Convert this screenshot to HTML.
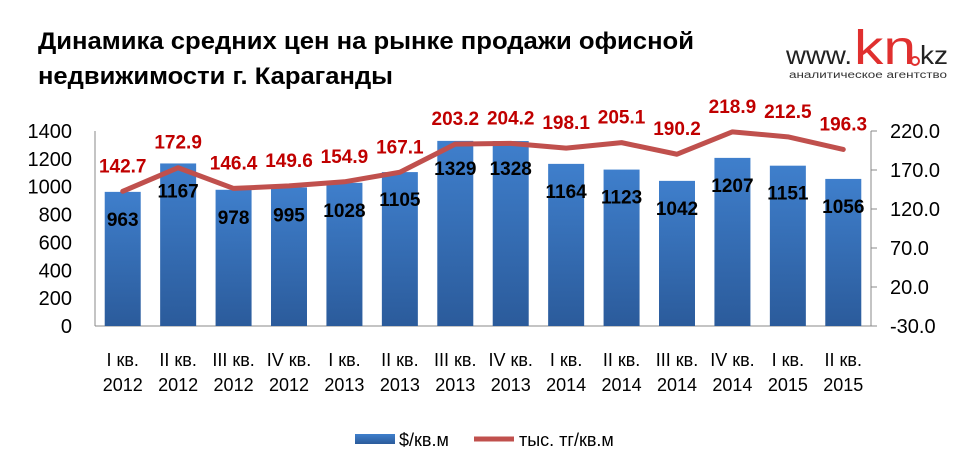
<!DOCTYPE html>
<html><head><meta charset="utf-8"><style>
html,body{margin:0;padding:0;background:#fff;width:971px;height:474px;overflow:hidden;font-family:"Liberation Sans","DejaVu Sans",sans-serif}
</style></head><body>
<svg id="s" width="971" height="474" xmlns="http://www.w3.org/2000/svg" font-family="Liberation Sans, DejaVu Sans, sans-serif">
<defs>
<linearGradient id="g" x1="0" y1="0" x2="0" y2="1"><stop offset="0" stop-color="#3f7fcc"/><stop offset="1" stop-color="#2b5b9b"/></linearGradient>
</defs>
<text x="38" y="49" font-size="24" font-weight="bold" fill="#000" textLength="656" lengthAdjust="spacingAndGlyphs">Динамика средних цен на рынке продажи офисной</text>
<text x="38" y="84" font-size="24" font-weight="bold" fill="#000" textLength="355" lengthAdjust="spacingAndGlyphs">недвижимости г. Караганды</text>
<text x="786" y="64" font-size="26" fill="#222" textLength="66" lengthAdjust="spacingAndGlyphs">www.</text>
<text x="854" y="64" font-size="48" fill="#e0302f" textLength="62" lengthAdjust="spacingAndGlyphs">kn</text>
<circle cx="915" cy="61" r="4" fill="none" stroke="#e0302f" stroke-width="2"/>
<text x="920" y="64" font-size="26" fill="#222" textLength="28" lengthAdjust="spacingAndGlyphs">kz</text>
<text x="789" y="78" font-size="10" fill="#333" textLength="158" lengthAdjust="spacingAndGlyphs">аналитическое агентство</text>
<g id="c"></g>
<rect x="355" y="434" width="40" height="10" fill="url(#g)"/>
<text x="399" y="446" font-size="18" fill="#000">$/кв.м</text>
<line x1="474" y1="439" x2="514" y2="439" stroke="#c0504d" stroke-width="5"/>
<text x="519" y="446" font-size="18" fill="#000">тыс. тг/кв.м</text>
</svg>
<script>
var c=document.getElementById('c'),h='';
var L=95,R=871,B=326,T=131,n=14,w=(R-L)/n;
var bars=[963,1167,978,995,1028,1105,1329,1328,1164,1123,1042,1207,1151,1056];
var ln=[142.7,172.9,146.4,149.6,154.9,167.1,203.2,204.2,198.1,205.1,190.2,218.9,212.5,196.3];
var q=['I','II','III','IV','I','II','III','IV','I','II','III','IV','I','II'];
var yr=[2012,2012,2012,2012,2013,2013,2013,2013,2014,2014,2014,2014,2015,2015];
function yb(v){return B-v*(B-T)/1400}
function yl(v){return B-(v+30)*(B-T)/250}
h+='<line x1="'+L+'" y1="'+T+'" x2="'+L+'" y2="'+B+'" stroke="#888"/>';
h+='<line x1="'+R+'" y1="'+T+'" x2="'+R+'" y2="'+B+'" stroke="#888"/>';
h+='<line x1="'+L+'" y1="'+B+'" x2="'+R+'" y2="'+B+'" stroke="#888"/>';
for(var i=0;i<=7;i++){var y=yb(i*200);h+='<text x="72" y="'+(y+7)+'" font-size="20" text-anchor="end">'+(i*200)+'</text>';}
for(var i=0;i<=5;i++){var v=-30+i*50,y=yl(v);h+='<line x1="'+R+'" y1="'+y+'" x2="'+(R+6)+'" y2="'+y+'" stroke="#888"/>';h+='<text x="890" y="'+(y+7)+'" font-size="20">'+v.toFixed(1)+'</text>';}
var pts=[];
for(var i=0;i<n;i++){var cx=L+w*(i+0.5),t=yb(bars[i]);
h+='<rect x="'+(cx-18)+'" y="'+t+'" width="36" height="'+(B-t)+'" fill="url(#g)"/>';
h+='<text x="'+cx+'" y="'+(t+34)+'" font-size="19" font-weight="bold" text-anchor="middle">'+bars[i]+'</text>';
pts.push(cx+','+yl(ln[i]));
h+='<text x="'+cx+'" y="366" font-size="18" text-anchor="middle">'+q[i]+' кв.</text>';
h+='<text x="'+cx+'" y="391" font-size="18" text-anchor="middle">'+yr[i]+'</text>';}
h+='<polyline points="'+pts.join(' ')+'" fill="none" stroke="#c0504d" stroke-width="5" stroke-linejoin="round" stroke-linecap="round"/>';
for(var i=0;i<n;i++){var cx=L+w*(i+0.5);h+='<text x="'+cx+'" y="'+(yl(ln[i])-19)+'" font-size="19" font-weight="bold" fill="#c00000" text-anchor="middle">'+ln[i].toFixed(1)+'</text>';}
c.innerHTML=h;
</script>
</body></html>
